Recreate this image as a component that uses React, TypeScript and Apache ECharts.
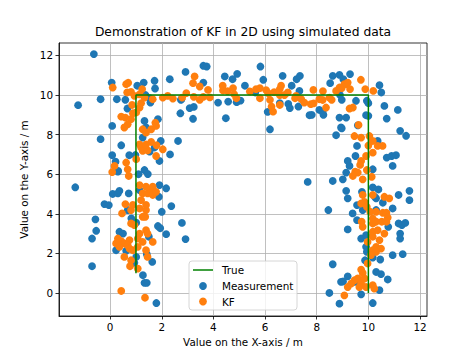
import React, { useEffect, useRef } from "react";
import * as echarts from "echarts";

const chartTitle = "Demonstration of KF in 2D using simulated data";
const xAxisName = "Value on the X-axis / m";
const yAxisName = "Value on the Y-axis / m";
const legendLabels = ["True", "Measurement", "KF"];
const xTicks = [0, 2, 4, 6, 8, 10, 12];
const yTicks = [0, 2, 4, 6, 8, 10, 12];

const truePath: [number, number][] = [[1, 1], [1, 10], [10, 10], [10, 0]];

const measurementPoints: [number, number][] = [
  [-0.63, 12.07], [-1.24, 9.49], [-0.37, 9.79], [-0.37, 7.77], [0.06, 10.63], [0.26, 9.79], [0.08, 8.44], [0.43, 7.46],
  [0.08, 6.96], [0.31, 6.17], [0.74, 6.96], [0.67, 9.32], [0.59, 9.76], [1.05, 10.47], [1.3, 10.63], [1.72, 10.72],
  [1.74, 10.33], [2.31, 10.8], [1.56, 9.62], [1.85, 8.78], [1.33, 8.69], [1.39, 8.36], [1.26, 7.85], [1.96, 7.68],
  [2.63, 7.68], [2.32, 7.0], [1.72, 7.35], [1.91, 6.67], [1.33, 6.21], [1.46, 6.01], [1.1, 6.0], [2.74, 9.76],
  [2.72, 9.08], [3.08, 9.34], [3.24, 9.4], [3.21, 8.8], [2.92, 11.17], [3.61, 11.48], [3.74, 11.44], [3.61, 10.63],
  [1.37, 10.0], [1.53, 9.84], [0.21, 6.63], [0.98, 6.97], [1.53, 7.14],
  [-1.35, 5.34], [0.1, 5.0], [0.3, 5.03], [0.36, 5.16], [0.72, 5.03], [1.14, 5.2], [1.91, 5.45], [2.17, 5.29],
  [1.89, 4.86], [-0.22, 4.49], [-0.05, 4.44], [0.68, 4.19], [2.37, 4.39], [2.0, 4.1], [-0.57, 3.72], [-0.54, 3.14],
  [-0.7, 2.75], [0.82, 3.77], [0.88, 3.6], [1.01, 3.55], [0.36, 3.09], [0.5, 3.0], [1.85, 3.38], [1.94, 3.27],
  [2.17, 2.97], [2.78, 3.54], [2.92, 2.72], [0.23, 2.16], [0.62, 2.13], [1.01, 1.82], [1.42, 1.96], [1.63, 1.57],
  [0.94, 1.52], [-0.7, 1.35], [1.27, 0.9], [1.33, 0.51], [1.42, 0.51], [1.79, -0.51], [1.5, 2.84], [0.3, 6.13],
  [4.44, 10.94], [4.74, 10.8], [4.92, 11.07], [5.22, 10.47], [5.05, 9.72], [4.9, 9.64], [4.57, 9.67], [4.18, 9.62],
  [4.48, 8.83], [5.82, 11.44], [5.93, 10.77], [5.62, 10.13], [6.68, 10.97], [7.03, 10.47], [7.22, 10.8], [7.35, 10.97],
  [6.57, 9.59], [6.9, 9.55], [6.19, 8.27], [6.96, 9.34], [7.29, 9.42], [2.76, 9.79], [6.1, 9.15], [7.33, 10.21],
  [7.72, 8.98], [8.1, 9.25], [8.23, 9.15], [8.52, 10.6], [8.62, 10.97], [8.88, 11.02], [9.03, 10.8], [9.29, 11.06],
  [8.88, 8.86], [9.14, 8.86], [8.94, 8.36], [8.75, 7.97], [9.59, 8.47], [9.91, 8.98], [9.94, 9.71], [9.52, 9.71],
  [10.43, 10.5], [10.5, 10.13], [10.62, 9.45], [11.14, 9.25], [10.71, 8.81], [11.23, 8.19], [11.46, 7.94], [9.56, 7.43],
  [10.36, 7.68], [10.71, 6.84], [10.9, 6.92], [11.07, 6.96], [10.94, 6.42], [9.2, 6.67], [9.27, 6.42], [9.5, 6.92],
  [9.14, 6.08], [10.17, 6.25], [7.65, 5.61], [8.62, 5.66], [9.01, 5.74], [7.81, 9.0], [8.26, 9.0], [8.9, 10.01],
  [8.97, 9.76], [10.0, 9.59], [10.0, 8.95], [8.97, 8.32],
  [9.14, 5.16], [9.2, 4.78], [9.75, 5.11], [10.17, 5.33], [10.39, 5.23], [10.3, 4.78], [10.56, 4.56], [11.17, 4.95],
  [11.59, 5.16], [11.59, 4.69], [8.45, 4.19], [9.39, 4.02], [9.56, 4.44], [9.56, 3.68], [9.78, 4.19], [10.3, 4.19],
  [10.94, 4.27], [9.2, 3.21], [9.72, 2.75], [9.91, 2.92], [10.77, 3.34], [11.17, 3.51], [11.3, 3.43], [11.43, 3.54],
  [11.23, 3.0], [11.23, 2.75], [9.91, 2.33], [9.94, 2.08], [10.17, 1.79], [10.46, 1.69], [10.94, 1.91], [11.33, 1.96],
  [9.87, 1.65], [8.62, 1.45], [10.3, 1.06], [10.49, 0.95], [10.75, 0.68], [9.2, 0.84], [9.46, 0.56], [8.94, 0.56],
  [8.49, 0.0], [9.72, -0.07], [8.88, -0.54], [10.17, -0.51], [10.43, 0.14], [10.25, 4.86], [9.02, 0.58],
];

const kfPoints: [number, number][] = [
  [0.1, 10.38], [0.62, 10.55], [0.7, 10.62], [0.66, 10.13], [0.81, 10.16], [0.94, 9.96], [1.14, 10.04], [1.24, 10.3],
  [1.33, 9.87], [1.65, 9.79], [2.04, 9.87], [2.23, 9.96], [2.43, 9.82], [2.79, 9.87], [0.43, 8.91], [0.59, 8.86],
  [0.81, 8.78], [0.68, 8.52], [0.55, 8.36], [1.01, 9.12], [1.14, 9.37], [1.2, 9.59], [0.88, 9.08], [0.85, 9.5],
  [1.26, 8.27], [1.39, 8.1], [1.59, 8.27], [1.78, 8.44], [1.75, 8.6], [1.14, 7.51], [1.2, 7.35], [1.26, 7.18],
  [1.45, 7.2], [1.39, 7.5], [1.59, 7.63], [1.8, 7.46], [2.04, 7.26], [1.78, 6.92], [1.01, 6.76], [0.62, 6.59],
  [0.68, 6.25], [0.72, 5.91], [0.17, 6.42], [0.08, 6.11],
  [0.59, 4.49], [0.46, 4.02], [0.81, 4.19], [0.88, 4.45], [1.14, 4.27], [1.39, 4.19], [1.39, 4.45], [1.2, 4.69],
  [1.26, 5.03], [1.45, 5.03], [1.59, 5.2], [1.65, 4.95], [1.39, 5.37], [1.65, 5.37], [1.78, 5.11], [1.14, 5.45],
  [1.26, 3.85], [1.36, 3.85], [0.81, 3.51], [0.94, 3.43], [1.39, 3.17], [1.45, 3.0], [1.14, 3.0], [1.07, 2.75],
  [1.26, 2.58], [1.65, 2.58], [0.3, 2.75], [0.43, 2.62], [0.55, 2.5], [0.75, 2.67], [0.68, 2.41], [0.23, 2.5],
  [0.36, 2.33], [0.75, 2.24], [1.39, 2.16], [1.45, 1.82], [0.55, 1.82], [0.81, 1.65], [0.77, 1.35], [1.07, 1.23],
  [0.43, 0.1], [1.35, -0.24], [0.88, 2.16], [1.07, 2.33],
  [3.27, 10.94], [3.21, 10.6], [3.47, 10.43], [2.95, 10.1], [3.24, 9.91], [3.47, 9.76], [3.79, 10.26], [3.86, 9.88],
  [3.61, 9.91], [4.37, 10.23], [4.36, 10.47], [4.55, 10.2], [4.76, 10.35], [4.8, 10.05], [4.89, 9.84], [5.41, 10.18],
  [5.65, 10.3], [5.8, 10.35], [5.8, 9.84], [6.04, 10.25], [6.12, 10.1], [6.35, 10.15], [6.57, 10.3], [6.62, 10.47],
  [6.57, 10.0], [6.75, 10.0], [6.88, 10.13], [6.19, 9.76], [6.25, 9.42], [6.31, 9.16], [6.57, 9.5], [7.16, 9.84],
  [7.2, 9.96], [7.4, 9.8],
  [7.52, 9.62], [7.77, 9.54], [7.87, 10.26], [8.1, 9.79], [8.24, 10.2], [8.23, 9.75], [8.36, 9.37], [8.49, 9.87],
  [8.58, 9.76], [8.75, 10.21], [8.88, 10.38], [8.97, 10.35], [9.07, 10.55], [9.16, 10.55], [9.2, 10.63], [9.29, 10.3],
  [9.71, 10.77], [9.88, 10.3], [10.19, 10.21], [9.27, 9.32], [9.4, 9.37], [9.62, 8.49], [7.88, 9.58],
  [9.46, 7.93], [9.72, 7.85], [10.04, 7.93], [10.17, 7.68], [10.36, 7.43], [10.55, 7.43], [10.0, 7.45], [10.17, 7.09],
  [9.91, 6.92], [9.72, 6.67], [9.68, 6.47], [9.49, 6.13], [9.59, 6.08], [9.4, 5.91], [9.78, 5.74], [10.13, 5.87],
  [9.94, 6.21],
  [9.78, 4.95], [10.17, 4.95], [10.62, 4.86], [10.81, 4.78], [9.72, 4.52], [9.85, 4.6], [9.94, 4.35], [10.07, 4.1],
  [10.3, 4.1], [10.56, 4.05], [10.7, 4.05], [10.75, 3.81], [9.74, 3.6], [10.17, 3.76], [10.17, 3.51], [10.3, 3.6],
  [10.52, 3.6], [10.7, 3.6], [9.78, 3.34], [10.17, 3.09], [10.36, 3.17], [10.62, 3.0], [10.17, 2.84], [9.97, 2.58],
  [10.43, 2.67], [10.3, 2.33], [10.49, 2.24], [10.17, 2.16], [10.3, 2.08], [10.1, 1.91], [9.97, 1.49], [9.72, 1.18],
  [9.78, 1.01], [9.59, 0.73], [9.46, 0.64], [9.33, 0.47], [9.2, 0.3], [9.72, 0.47], [9.91, 0.3], [10.17, 0.39],
  [10.23, 0.22], [9.85, 0.73], [9.07, -0.12], [9.65, 0.3],
];

const FONT = "DejaVu Sans";
const BLUE = "#1f77b4";
const ORANGE = "#ff7f0e";
const GREEN = "#008000";

export default function App() {
  const ref = useRef<HTMLDivElement>(null);

  useEffect(() => {
    document.body.style.margin = "0";
    if (!ref.current) return;
    const chart = echarts.init(ref.current, null, { renderer: "svg" });

    const axisCommon = {
      type: "value" as const,
      nameLocation: "middle" as const,
      nameTextStyle: { fontFamily: FONT, fontSize: 10.4, color: "#000" },
      axisLine: { show: true, onZero: false, lineStyle: { color: "#000", width: 0.8 } },
      splitLine: { show: true, lineStyle: { color: "#b0b0b0", width: 0.8 } },
    };

    const legendX = 189;
    const legendY = 261;
    const rows = [270, 286, 301.5];

    chart.setOption({
      animation: false,
      backgroundColor: "#ffffff",
      title: {
        text: chartTitle,
        left: 243,
        top: 26,
        textAlign: "center",
        padding: 0,
        textStyle: { fontFamily: FONT, fontSize: 12.3, fontWeight: "normal", color: "#000" },
      },
      grid: {
        left: 59,
        right: 47,
        top: 43,
        bottom: 39,
        show: true,
        borderColor: "#000",
        borderWidth: 0.8,
        containLabel: false,
      },
      xAxis: {
        ...axisCommon,
        min: -1.98,
        max: 12.27,
        name: xAxisName,
        nameGap: 21,
        axisTick: { show: true, inside: false, length: 3.5, customValues: xTicks, lineStyle: { color: "#000", width: 0.8 } },
        axisLabel: { customValues: xTicks, margin: 6, fontFamily: FONT, fontSize: 10.4, color: "#000" },
      },
      yAxis: {
        ...axisCommon,
        min: -1.165,
        max: 12.63,
        name: yAxisName,
        nameGap: 23,
        axisTick: { show: true, inside: false, length: 3.5, customValues: yTicks, lineStyle: { color: "#000", width: 0.8 } },
        axisLabel: { customValues: yTicks, margin: 6, fontFamily: FONT, fontSize: 10.4, color: "#000" },
      },
      series: [
        {
          name: "Measurement",
          type: "scatter",
          data: measurementPoints,
          symbol: "circle",
          symbolSize: 7.8,
          itemStyle: { color: BLUE, opacity: 1 },
          z: 2,
        },
        {
          name: "KF",
          type: "scatter",
          data: kfPoints,
          symbol: "circle",
          symbolSize: 7.8,
          itemStyle: { color: ORANGE, opacity: 1 },
          z: 3,
        },
        {
          name: "True",
          type: "line",
          data: truePath,
          showSymbol: false,
          symbol: "none",
          lineStyle: { color: GREEN, width: 1.5 },
          itemStyle: { color: GREEN },
          z: 4,
        },
      ],
      graphic: [
        {
          type: "rect",
          z: 100,
          shape: { x: legendX, y: legendY, width: 108, height: 49, r: 3 },
          style: { fill: "rgba(255,255,255,0.8)", stroke: "#cccccc", lineWidth: 0.8 },
        },
        {
          type: "line",
          z: 101,
          shape: { x1: 193, y1: rows[0], x2: 213, y2: rows[0] },
          style: { stroke: GREEN, lineWidth: 1.5 },
        },
        {
          type: "circle",
          z: 101,
          shape: { cx: 203, cy: rows[1], r: 3.9 },
          style: { fill: BLUE },
        },
        {
          type: "circle",
          z: 101,
          shape: { cx: 203, cy: rows[2], r: 3.9 },
          style: { fill: ORANGE },
        },
        ...legendLabels.map((label, i) => ({
          type: "text",
          z: 101,
          x: 222,
          y: rows[i],
          style: {
            text: label,
            fontFamily: FONT,
            fontSize: 10.4,
            fill: "#000",
            verticalAlign: "middle",
            align: "left",
          },
        })),
      ],
    });

    return () => chart.dispose();
  }, []);

  return <div ref={ref} style={{ width: 474, height: 355 }} />;
}
